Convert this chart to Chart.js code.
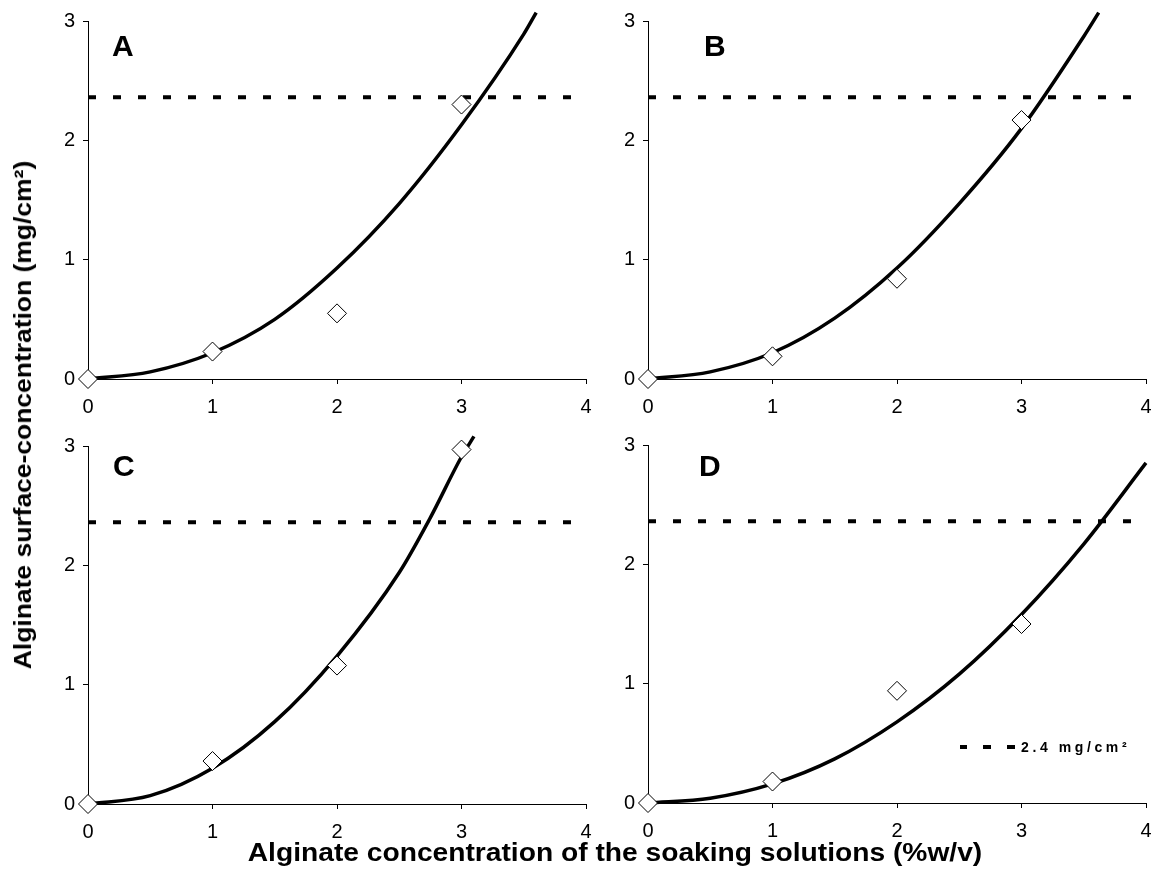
<!DOCTYPE html>
<html>
<head>
<meta charset="utf-8">
<script src="https://cdn.jsdelivr.net/npm/chart.js@4.4.1/dist/chart.umd.min.js"></script>
<style>
  html, body { margin:0; padding:0; background:#fff; width:1151px; height:885px; overflow:hidden; position:relative; }
  canvas { position:absolute; }
  .txt { position:absolute; font-family:"Liberation Sans", Arial, sans-serif; font-weight:bold; color:#000; white-space:nowrap; line-height:1; }
  .dash { position:absolute; background:#000; height:4px; }
</style>
</head>
<body>
<canvas id="cA" width="600" height="440" style="left:0px;top:0px"></canvas>
<canvas id="cB" width="600" height="440" style="left:560px;top:0px"></canvas>
<canvas id="cC" width="600" height="440" style="left:0px;top:425px"></canvas>
<canvas id="cD" width="600" height="440" style="left:560px;top:425px"></canvas>

<div class="txt" style="left:112px;top:31px;font-size:30px">A</div>
<div class="txt" style="left:704px;top:31px;font-size:30px">B</div>
<div class="txt" style="left:113px;top:451px;font-size:30px">C</div>
<div class="txt" style="left:699px;top:451px;font-size:30px">D</div>

<div id="ytitle" class="txt" style="left:23px;top:415px;font-size:24px">Alginate surface-concentration (mg/cm²)</div>
<div id="xtitle" class="txt" style="left:615px;top:852px;font-size:25px">Alginate concentration of the soaking solutions (%w/v)</div>

<div class="dash" style="left:960px;top:745px;width:7px"></div>
<div class="dash" style="left:983px;top:745px;width:8px"></div>
<div class="dash" style="left:1007px;top:745px;width:8px"></div>
<div class="txt" style="left:1021px;top:740px;font-size:14px;letter-spacing:3.6px">2.4 mg/cm²</div>

<script>
// ---- data ----
const xConc = [0, 1, 2, 3];                 // soaking-solution concentration (%w/v)
const measuredA = [0, 0.23, 0.55, 2.30];
const measuredB = [0, 0.19, 0.84, 2.17];
const measuredC = [0, 0.36, 1.16, 2.97];
const measuredD = [0, 0.18, 0.94, 1.50];

const fitXA = [0, 0.5, 1, 1.5, 2, 2.5, 3, 3.5, 3.6];
const fitYA = [0, 0.06, 0.22, 0.50, 0.93, 1.47, 2.13, 2.89, 3.07];
const fitXB = [0, 0.5, 1, 1.5, 2, 2.5, 3, 3.5, 3.62];
const fitYB = [0, 0.06, 0.22, 0.51, 0.93, 1.47, 2.10, 2.87, 3.07];
const fitXC = [0, 0.5, 1, 1.5, 2, 2.5, 2.75, 3, 3.1];
const fitYC = [0, 0.07, 0.30, 0.69, 1.24, 1.94, 2.40, 2.91, 3.08];
const fitXD = [0, 0.5, 1, 1.5, 2, 2.5, 3, 3.5, 4];
const fitYD = [0, 0.04, 0.16, 0.37, 0.68, 1.08, 1.58, 2.17, 2.85];

const threshold = 2.36;                      // 2.4 mg/cm² reference level
const xRange = [0, 4];
const yRange = [0, 3];

// ---- layout ----
const panels = [
  { id:'cA', left:0,   top:0,   w:600, h:440, aL:88,  aR:586,  aT:21,  aB:379, pts:measuredA, fx:fitXA, fy:fitYA },
  { id:'cB', left:560, top:0,   w:600, h:440, aL:648, aR:1146, aT:21,  aB:379, pts:measuredB, fx:fitXB, fy:fitYB },
  { id:'cC', left:0,   top:425, w:600, h:440, aL:88,  aR:586,  aT:446, aB:804, pts:measuredC, fx:fitXC, fy:fitYC },
  { id:'cD', left:560, top:425, w:600, h:440, aL:648, aR:1146, aT:445, aB:803, pts:measuredD, fx:fitXD, fy:fitYD },
];

const tickFont = { family:'"Liberation Sans Narrow","Liberation Sans",Arial,sans-serif', size:20 };

panels.forEach(p => {
  const padTop = p.aT - p.top;
  const padRight = p.left + p.w - p.aR;
  const yW = p.aL - p.left;
  const xH = p.top + p.h - p.aB;
  new Chart(document.getElementById(p.id), {
    type: 'scatter',
    data: {
      datasets: [
        {
          data: xConc.map((x, i) => ({ x, y: p.pts[i] })),
          pointStyle: 'rectRot', pointRadius: 9.5, pointHoverRadius: 9.5,
          pointBackgroundColor: '#fff', pointBorderColor: '#000', pointBorderWidth: 1,
          showLine: false, clip: false
        },
        {
          data: p.fx.map((x, i) => ({ x, y: p.fy[i] })),
          showLine: true, borderColor: '#000', borderWidth: 3.5,
          cubicInterpolationMode: 'monotone', pointRadius: 0, clip: false
        },
        {
          data: [{ x: xRange[0], y: threshold }, { x: xRange[1], y: threshold }],
          showLine: true, borderColor: '#000', borderWidth: 4,
          borderDash: [8, 17], borderCapStyle: 'butt', pointRadius: 0
        }
      ]
    },
    options: {
      responsive: false, animation: false, devicePixelRatio: 1,
      layout: { padding: { top: padTop, right: padRight, left: 0, bottom: 0 } },
      plugins: { legend: { display: false }, tooltip: { enabled: false } },
      events: [],
      scales: {
        x: {
          type: 'linear', min: xRange[0], max: xRange[1],
          afterFit: s => { s.height = xH; s.paddingLeft = 0; s.paddingRight = 0; },
          ticks: { stepSize: 1, color: '#000', font: tickFont, padding: 11 },
          grid: { drawOnChartArea: false, drawTicks: true, tickLength: 5, color: '#000', lineWidth: 1 },
          border: { display: true, color: '#000', width: 1 }
        },
        y: {
          type: 'linear', min: yRange[0], max: yRange[1],
          afterFit: s => { s.width = yW; s.paddingTop = 0; s.paddingBottom = 0; },
          ticks: { stepSize: 1, color: '#000', font: tickFont, padding: 8 },
          grid: { drawOnChartArea: false, drawTicks: true, tickLength: 5, color: '#000', lineWidth: 1 },
          border: { display: true, color: '#000', width: 1 }
        }
      }
    }
  });
});

// size the axis titles to the span they take in the reference
function fitTitle(id, target, rotate) {
  const el = document.getElementById(id);
  const k = target / el.offsetWidth;
  el.style.transform = 'translate(-50%,-50%)' + (rotate ? ' rotate(-90deg)' : '') + ' scaleX(' + k + ')';
}
fitTitle('ytitle', 508, true);
fitTitle('xtitle', 734, false);
</script>
</body>
</html>
